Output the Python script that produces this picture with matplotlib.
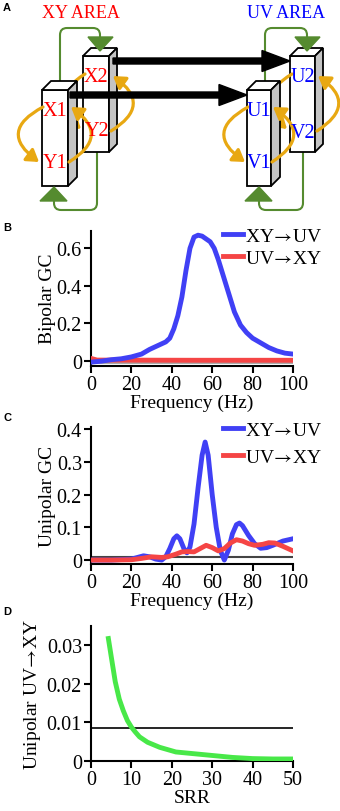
import numpy as np
import matplotlib.pyplot as plt
from matplotlib.patches import Polygon, FancyArrowPatch, FancyArrow, PathPatch
from matplotlib.path import Path

plt.rcParams['font.family'] = ['Liberation Serif', 'DejaVu Serif']
plt.rcParams['font.size'] = 14
plt.rcParams['mathtext.fontset'] = 'stix'

# ---- data ----
# B: bipolar GC
freq_b_xy = [0, 5, 10, 15, 20, 25, 29, 33, 37, 39, 41, 43, 45, 47, 49, 51, 53, 55, 57,
             59, 61, 63, 65, 67, 69, 71, 74, 77, 80, 84, 88, 92, 96, 100]
gc_b_xy = [-0.008, -0.003, 0.005, 0.01, 0.02, 0.035, 0.06, 0.08, 0.1, 0.12, 0.17, 0.24,
           0.34, 0.48, 0.6, 0.66, 0.67, 0.665, 0.65, 0.635, 0.6, 0.54, 0.47, 0.4, 0.33,
           0.26, 0.19, 0.15, 0.12, 0.095, 0.07, 0.052, 0.04, 0.035]
freq_b_uv = [0, 3, 50, 100]
gc_b_uv = [0.012, 0.003, 0.002, 0.002]
thresh_b = 0.009
base_b = -0.012

# C: unipolar GC
freq_c_xy = [0, 10, 20, 23, 26, 29, 32, 35, 37, 39, 41, 42.5, 44, 46, 47.5, 49, 51, 53,
             55, 56.5, 58, 60, 62, 64, 66, 68, 70, 72, 73.5, 75, 78, 81, 84, 87, 90, 95, 100]
gc_c_xy = [0.0, 0.0, 0.003, 0.008, 0.013, 0.01, 0.003, 0.0, 0.01, 0.035, 0.065, 0.074,
           0.065, 0.035, 0.022, 0.04, 0.11, 0.22, 0.32, 0.36, 0.32, 0.2, 0.1, 0.03, 0.0,
           0.03, 0.08, 0.108, 0.113, 0.105, 0.075, 0.05, 0.036, 0.038, 0.045, 0.058, 0.065]
freq_c_uv = [0, 10, 20, 25, 30, 35, 38, 42, 45, 48, 51, 54, 57, 60, 63, 66, 69, 72, 75,
             78, 81, 85, 88, 91, 95, 100]
gc_c_uv = [0.0, 0.0, 0.001, 0.005, 0.01, 0.008, 0.01, 0.018, 0.025, 0.026, 0.025, 0.035,
           0.045, 0.038, 0.028, 0.035, 0.052, 0.062, 0.058, 0.05, 0.045, 0.048, 0.053,
           0.052, 0.042, 0.028]
thresh_c = 0.01

# D: unipolar UV->XY vs SRR
srr = [4.3, 5, 6, 7, 8, 9, 10, 11, 12, 14, 17, 21, 25, 30, 35, 40, 45, 50]
gc_d = [0.0316, 0.027, 0.0205, 0.016, 0.013, 0.0105, 0.0088, 0.0075, 0.0063, 0.0049,
        0.0036, 0.0024, 0.002, 0.0015, 0.001, 0.0007, 0.0006, 0.0006]
thresh_d = 0.0085

lab_xy = r'XY$\!\rightarrow\!$UV'
lab_uv = r'UV$\!\rightarrow\!$XY'

blue = '#4040f5'
red = '#f54545'
green = '#48e848'
orange = '#e8a812'
dgreen = '#558b2f'

W, H = 340, 812
fig = plt.figure(figsize=(W / 100, H / 100), dpi=100)


def fx(px):
    return px / W


def fy(py):
    return 1 - py / H


# ---- panel A: schematic, drawn in pixel units ----
axa = fig.add_axes([0, fy(220), 1, 220 / H])
axa.set_xlim(0, W)
axa.set_ylim(220, 0)
axa.axis('off')


def box(x, y, w, h, d, z):
    front = Polygon([(x, y), (x + w, y), (x + w, y + h), (x, y + h)], closed=True,
                    fc='white', ec='black', lw=1.3, zorder=z)
    top = Polygon([(x, y), (x + w, y), (x + w + d, y - d), (x + d, y - d)], closed=True,
                  fc='white', ec='black', lw=1.3, zorder=z)
    side = Polygon([(x + w, y), (x + w + d, y - d), (x + w + d, y + h - d), (x + w, y + h)],
                   closed=True, fc='#c4c4c4', ec='black', lw=1.3, zorder=z)
    for p in (front, top, side):
        axa.add_patch(p)


def loop(pts, r=7):
    verts = [pts[0]]
    codes = [Path.MOVETO]
    for i in range(1, len(pts) - 1):
        p0, p1, p2 = np.array(pts[i - 1], float), np.array(pts[i], float), np.array(pts[i + 1], float)
        a = p1 + (p0 - p1) / np.linalg.norm(p0 - p1) * r
        b = p1 + (p2 - p1) / np.linalg.norm(p2 - p1) * r
        verts += [tuple(a), tuple(p1), tuple(b)]
        codes += [Path.LINETO, Path.CURVE3, Path.CURVE3]
    verts.append(pts[-1])
    codes.append(Path.LINETO)
    axa.add_patch(PathPatch(Path(verts, codes), fc='none', ec=dgreen, lw=1.5, zorder=1))


def arc(a, b, rad, z):
    axa.add_patch(FancyArrowPatch(a, b, connectionstyle='arc3,rad=%g' % rad,
                                  arrowstyle='-|>,head_length=0.7,head_width=0.45',
                                  mutation_scale=10, color=orange, lw=2.3, zorder=z,
                                  shrinkA=0, shrinkB=0))


# green feedback loops
loop([(60, 83), (60, 29), (100, 29), (100, 40)])
loop([(97, 153), (97, 211), (54, 211), (54, 202)])
loop([(265, 83), (265, 29), (307, 29), (307, 40)])
loop([(303, 153), (303, 211), (259, 211), (259, 202)])
for tri in ([(88, 38), (113, 38), (100, 52)], [(40, 202), (67, 202), (54, 188)],
            [(295, 38), (320, 38), (307, 52)], [(245, 202), (272, 202), (259, 188)]):
    axa.add_patch(Polygon(tri, closed=True, fc=dgreen, ec=dgreen, zorder=6))

# back boxes and their hidden left loops
box(83, 57, 26, 96, 8, 2)
box(290, 57, 25, 96, 8, 2)
arc((85, 75), (81, 130), 0.7, 3)
arc((292, 75), (287, 130), 0.7, 3)

# front boxes
box(42, 91, 26, 96, 9, 4)
box(247, 91, 24, 96, 9, 4)

arc((43, 108), (39, 163), 0.8, 5)
arc((69, 163), (71, 108), 0.75, 5)
arc((111, 132), (113, 77), 0.75, 5)
arc((248, 108), (245, 163), 0.8, 5)
arc((272, 163), (273, 108), 0.75, 5)
arc((317, 132), (318, 77), 0.75, 5)

# interareal arrows
axa.add_patch(FancyArrow(113, 62, 177, 0, width=6, head_width=21, head_length=28,
                         length_includes_head=True, color='black', zorder=6))
axa.add_patch(FancyArrow(70, 96, 177, 0, width=6, head_width=21, head_length=28,
                         length_includes_head=True, color='black', zorder=6))

for s, x, y, c in [('X1', 55, 111, 'red'), ('Y1', 55, 164, 'red'),
                   ('X2', 96, 78, 'red'), ('Y2', 97, 131, 'red'),
                   ('U1', 259, 111, 'blue'), ('V1', 259, 164, 'blue'),
                   ('U2', 303, 78, 'blue'), ('V2', 303, 133, 'blue')]:
    axa.text(x, y, s, color=c, fontsize=14.5, ha='center', va='center', zorder=7)
axa.text(81, 14, 'XY AREA', color='red', fontsize=13, ha='center', va='center')
axa.text(286, 14, 'UV AREA', color='blue', fontsize=13, ha='center', va='center')

# ---- line panels ----
left, width = fx(91), 202 / W


def style(ax, xl, xt, yl, yt, ylab, ytl, xlab, ylab_x):
    ax.set_xlim(*xl)
    ax.set_ylim(*yl)
    ax.set_xticks(xt)
    ax.set_yticks(yt)
    ax.set_yticklabels(ytl)
    for s in ('top', 'right'):
        ax.spines[s].set_visible(False)
    for s in ('left', 'bottom'):
        ax.spines[s].set_linewidth(1.5)
    ax.tick_params(direction='out', length=5, width=1.5, pad=1.5, labelsize=14.5)
    ax.set_ylabel(ylab, fontsize=14)
    ax.set_xlabel(xlab, fontsize=14, labelpad=0)
    ax.yaxis.set_label_coords(ylab_x, 0.5)


def legend(ax, handles, labels, top, spacing):
    ax.legend(handles, labels, loc='upper left', bbox_to_anchor=(fx(223), fy(top)),
              bbox_transform=fig.transFigure, frameon=False, handlelength=1.05,
              handletextpad=0.1, labelspacing=spacing, borderpad=0, borderaxespad=0,
              fontsize=14)


axb = fig.add_axes([left, fy(366.7), width, 135 / H])
axb.axhline(base_b, color='#999999', lw=1.2)
axb.axhline(thresh_b, color='black', lw=1.2)
lr, = axb.plot(freq_b_uv, gc_b_uv, color=red, lw=3.5, zorder=3)
lb, = axb.plot(freq_b_xy, gc_b_xy, color=blue, lw=3.5, zorder=3)
style(axb, (0, 100), range(0, 101, 20), (-0.027, 0.694), [0, 0.2, 0.4, 0.6],
      'Bipolar GC', ['0', '0.2', '0.4', '0.6'], 'Frequency (Hz)', -0.175)
legend(axb, [lb, lr], [lab_xy, lab_uv], 228, 0.22)

axc = fig.add_axes([left, fy(565), width, 136.7 / H])
axc.axhline(thresh_c, color='#444444', lw=1.5)
lb, = axc.plot(freq_c_xy, gc_c_xy, color=blue, lw=3.5, zorder=3)
lr, = axc.plot(freq_c_uv, gc_c_uv, color=red, lw=3.5, zorder=3)
style(axc, (0, 100), range(0, 101, 20), (-0.012, 0.405), [0, 0.1, 0.2, 0.3, 0.4],
      'Unipolar GC', ['0', '0.1', '0.2', '0.3', '0.4'], 'Frequency (Hz)', -0.175)
legend(axc, [lb, lr], [lab_xy, lab_uv], 422, 0.48)

axd = fig.add_axes([left, fy(762.3), width, 135.6 / H])
axd.axhline(thresh_d, color='black', lw=1.2)
axd.plot(srr, gc_d, color=green, lw=3.5, zorder=3)
style(axd, (0, 50), range(0, 51, 10), (0, 0.0349), [0, 0.01, 0.02, 0.03],
      r'Unipolar UV$\!\rightarrow\!$XY', ['0', '0.01', '0.02', '0.03'], 'SRR', -0.24)

for s, y in [('A', 8), ('B', 228), ('C', 418), ('D', 612)]:
    fig.text(fx(3), fy(y), s, fontsize=8, fontweight='bold', family='Liberation Sans',
             ha='left', va='center')

fig.savefig('out.png', dpi=100)
